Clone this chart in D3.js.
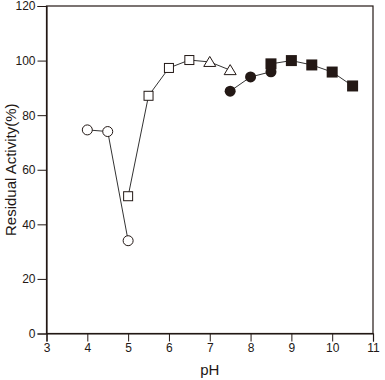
<!DOCTYPE html>
<html><head><meta charset="utf-8">
<script src="https://cdn.jsdelivr.net/npm/d3@7"></script>
<style>body{margin:0;background:#fff}svg{display:block}text{font-family:"Liberation Sans",Arial,sans-serif;fill:#231815}</style>
</head><body><svg id="c" width="385" height="380"></svg>
<script>
const openCircleX = [4, 4.5, 5];
const openCircleY = [74.6, 74.0, 34.0];
const openSquareX = [5, 5.5, 6, 6.5];
const openSquareY = [50.3, 87.1, 97.3, 100.2];
const triangleX = [6.5, 7, 7.5];
const triangleY = [100.2, 99.5, 96.5];
const filledCircleX = [7.5, 8, 8.5];
const filledCircleY = [88.8, 94.0, 95.9];
const filledSquareX = [8.5, 9, 9.5, 10, 10.5];
const filledSquareY = [98.8, 100.0, 98.4, 95.8, 90.7];
const xTicks = [3, 4, 5, 6, 7, 8, 9, 10, 11];
const yTicks = [0, 20, 40, 60, 80, 100, 120];

const svg = d3.select("#c");
const L = 46.5, R = 373, T = 6, B = 333.5;
const x = d3.scaleLinear().domain([3, 11]).range([L, R]);
const y = d3.scaleLinear().domain([0, 120]).range([B, T]);
const ink = "#231815";

// frame
svg.append("rect").attr("x", L).attr("y", T).attr("width", R - L).attr("height", B - T)
  .attr("fill", "none").attr("stroke", ink).attr("stroke-width", 1.2);

const xa = svg.append("g").attr("transform", `translate(0,${B})`)
  .call(d3.axisBottom(x).tickValues(xTicks).tickSize(8).tickPadding(2).tickFormat(d3.format("d")));
const ya = svg.append("g").attr("transform", `translate(${L},0)`)
  .call(d3.axisLeft(y).tickValues(yTicks).tickSize(9).tickPadding(2).tickFormat(d3.format("d")));
[xa, ya].forEach(a => {
  a.select(".domain").attr("stroke", ink).attr("stroke-width", 1.2);
  a.selectAll(".tick line").attr("stroke", ink).attr("stroke-width", 1);
  a.selectAll("text").attr("font-size", 12).attr("fill", ink).style("font-family", '"Liberation Sans",Arial,sans-serif');
});

svg.append("text").attr("x", (L + R) / 2).attr("y", 375).attr("text-anchor", "middle")
  .attr("font-size", 15).text("pH");
svg.append("text").attr("transform", `translate(16,${(T + B) / 2}) rotate(-90)`)
  .attr("text-anchor", "middle").attr("font-size", 15).text("Residual Activity(%)");

const line = d3.line().x(d => x(d[0])).y(d => y(d[1]));
function series(xs, ys) { return xs.map((v, i) => [v, ys[i]]); }
const all = [
  [openCircleX, openCircleY],
  [openSquareX, openSquareY],
  [triangleX, triangleY],
  [filledCircleX, filledCircleY],
  [filledSquareX, filledSquareY]
];
all.forEach(([xs, ys]) => {
  svg.append("path").datum(series(xs, ys)).attr("d", line)
    .attr("fill", "none").attr("stroke", "#333").attr("stroke-width", 1);
});

// open circles
svg.selectAll(".oc").data(series(openCircleX, openCircleY)).enter().append("circle")
  .attr("cx", d => x(d[0])).attr("cy", d => y(d[1])).attr("r", 5)
  .attr("fill", "#fff").attr("stroke", ink).attr("stroke-width", 1);
// open squares
svg.selectAll(".os").data(series(openSquareX, openSquareY)).enter().append("rect")
  .attr("x", d => x(d[0]) - 4.5).attr("y", d => y(d[1]) - 4.5).attr("width", 9).attr("height", 9)
  .attr("fill", "#fff").attr("stroke", ink).attr("stroke-width", 1);
// triangles (skip first point, which is the square)
svg.selectAll(".tr").data(series(triangleX, triangleY).slice(1)).enter().append("path")
  .attr("transform", d => `translate(${x(d[0])},${y(d[1])})`)
  .attr("d", "M0,-5.5L6,4.5L-6,4.5Z")
  .attr("fill", "#fff").attr("stroke", ink).attr("stroke-width", 1);
// filled circles
svg.selectAll(".fc").data(series(filledCircleX, filledCircleY)).enter().append("circle")
  .attr("cx", d => x(d[0])).attr("cy", d => y(d[1])).attr("r", 5.5)
  .attr("fill", ink);
// filled squares
svg.selectAll(".fs").data(series(filledSquareX, filledSquareY)).enter().append("rect")
  .attr("x", d => x(d[0]) - 5.5).attr("y", d => y(d[1]) - 5.5).attr("width", 11).attr("height", 11)
  .attr("fill", ink);
</script></body></html>
